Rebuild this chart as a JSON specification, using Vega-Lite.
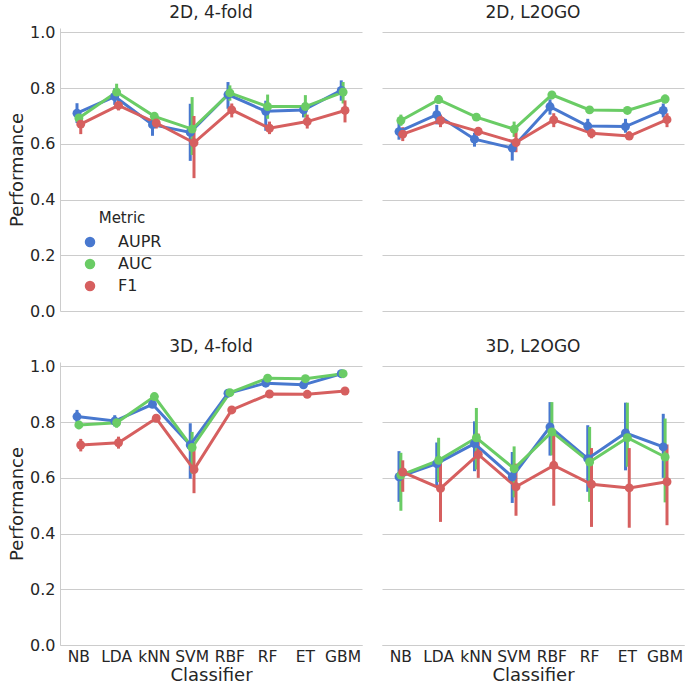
{
  "$schema": "https://vega.github.io/schema/vega-lite/v6.json",
  "padding": {"left": 8, "top": 4, "right": 5, "bottom": 5},
  "background": "white",
  "config": {
    "font": "DejaVu Sans",
    "view": {"stroke": null},
    "axis": {
      "domainColor": "#cccccc",
      "gridColor": "#cccccc",
      "tickSize": 0,
      "labelColor": "#262626",
      "titleColor": "#262626",
      "labelFontSize": 16,
      "titleFontSize": 18,
      "titleFontWeight": "normal"
    },
    "legend": {
      "labelFontSize": 16,
      "titleFontSize": 15,
      "titleFontWeight": "normal",
      "labelColor": "#262626",
      "titleColor": "#262626"
    }
  },
  "data": {
    "values": [
      {"Panel": "2D, 4-fold", "Classifier": "NB", "Metric": "AUPR", "value": 0.710, "lo": 0.675, "hi": 0.746},
      {"Panel": "2D, 4-fold", "Classifier": "NB", "Metric": "AUC", "value": 0.693, "lo": 0.665, "hi": 0.720},
      {"Panel": "2D, 4-fold", "Classifier": "NB", "Metric": "F1", "value": 0.671, "lo": 0.635, "hi": 0.700},
      {"Panel": "2D, 4-fold", "Classifier": "LDA", "Metric": "AUPR", "value": 0.770, "lo": 0.740, "hi": 0.800},
      {"Panel": "2D, 4-fold", "Classifier": "LDA", "Metric": "AUC", "value": 0.786, "lo": 0.760, "hi": 0.816},
      {"Panel": "2D, 4-fold", "Classifier": "LDA", "Metric": "F1", "value": 0.738, "lo": 0.720, "hi": 0.760},
      {"Panel": "2D, 4-fold", "Classifier": "kNN", "Metric": "AUPR", "value": 0.669, "lo": 0.629, "hi": 0.695},
      {"Panel": "2D, 4-fold", "Classifier": "kNN", "Metric": "AUC", "value": 0.699, "lo": 0.685, "hi": 0.712},
      {"Panel": "2D, 4-fold", "Classifier": "kNN", "Metric": "F1", "value": 0.675, "lo": 0.655, "hi": 0.695},
      {"Panel": "2D, 4-fold", "Classifier": "SVM", "Metric": "AUPR", "value": 0.641, "lo": 0.539, "hi": 0.744},
      {"Panel": "2D, 4-fold", "Classifier": "SVM", "Metric": "AUC", "value": 0.653, "lo": 0.560, "hi": 0.768},
      {"Panel": "2D, 4-fold", "Classifier": "SVM", "Metric": "F1", "value": 0.604, "lo": 0.477, "hi": 0.700},
      {"Panel": "2D, 4-fold", "Classifier": "RBF", "Metric": "AUPR", "value": 0.777, "lo": 0.726, "hi": 0.822},
      {"Panel": "2D, 4-fold", "Classifier": "RBF", "Metric": "AUC", "value": 0.783, "lo": 0.755, "hi": 0.810},
      {"Panel": "2D, 4-fold", "Classifier": "RBF", "Metric": "F1", "value": 0.722, "lo": 0.695, "hi": 0.745},
      {"Panel": "2D, 4-fold", "Classifier": "RF", "Metric": "AUPR", "value": 0.717, "lo": 0.647, "hi": 0.755},
      {"Panel": "2D, 4-fold", "Classifier": "RF", "Metric": "AUC", "value": 0.734, "lo": 0.690, "hi": 0.777},
      {"Panel": "2D, 4-fold", "Classifier": "RF", "Metric": "F1", "value": 0.656, "lo": 0.635, "hi": 0.680},
      {"Panel": "2D, 4-fold", "Classifier": "ET", "Metric": "AUPR", "value": 0.722, "lo": 0.695, "hi": 0.745},
      {"Panel": "2D, 4-fold", "Classifier": "ET", "Metric": "AUC", "value": 0.734, "lo": 0.695, "hi": 0.775},
      {"Panel": "2D, 4-fold", "Classifier": "ET", "Metric": "F1", "value": 0.680, "lo": 0.655, "hi": 0.705},
      {"Panel": "2D, 4-fold", "Classifier": "GBM", "Metric": "AUPR", "value": 0.792, "lo": 0.755, "hi": 0.828},
      {"Panel": "2D, 4-fold", "Classifier": "GBM", "Metric": "AUC", "value": 0.786, "lo": 0.745, "hi": 0.822},
      {"Panel": "2D, 4-fold", "Classifier": "GBM", "Metric": "F1", "value": 0.720, "lo": 0.677, "hi": 0.756},

      {"Panel": "2D, L2OGO", "Classifier": "NB", "Metric": "AUPR", "value": 0.644, "lo": 0.615, "hi": 0.675},
      {"Panel": "2D, L2OGO", "Classifier": "NB", "Metric": "AUC", "value": 0.684, "lo": 0.665, "hi": 0.705},
      {"Panel": "2D, L2OGO", "Classifier": "NB", "Metric": "F1", "value": 0.635, "lo": 0.610, "hi": 0.660},
      {"Panel": "2D, L2OGO", "Classifier": "LDA", "Metric": "AUPR", "value": 0.705, "lo": 0.670, "hi": 0.740},
      {"Panel": "2D, L2OGO", "Classifier": "LDA", "Metric": "AUC", "value": 0.759, "lo": 0.745, "hi": 0.775},
      {"Panel": "2D, L2OGO", "Classifier": "LDA", "Metric": "F1", "value": 0.684, "lo": 0.660, "hi": 0.705},
      {"Panel": "2D, L2OGO", "Classifier": "kNN", "Metric": "AUPR", "value": 0.617, "lo": 0.590, "hi": 0.640},
      {"Panel": "2D, L2OGO", "Classifier": "kNN", "Metric": "AUC", "value": 0.696, "lo": 0.685, "hi": 0.707},
      {"Panel": "2D, L2OGO", "Classifier": "kNN", "Metric": "F1", "value": 0.645, "lo": 0.630, "hi": 0.660},
      {"Panel": "2D, L2OGO", "Classifier": "SVM", "Metric": "AUPR", "value": 0.585, "lo": 0.540, "hi": 0.615},
      {"Panel": "2D, L2OGO", "Classifier": "SVM", "Metric": "AUC", "value": 0.653, "lo": 0.625, "hi": 0.680},
      {"Panel": "2D, L2OGO", "Classifier": "SVM", "Metric": "F1", "value": 0.605, "lo": 0.570, "hi": 0.655},
      {"Panel": "2D, L2OGO", "Classifier": "RBF", "Metric": "AUPR", "value": 0.734, "lo": 0.705, "hi": 0.760},
      {"Panel": "2D, L2OGO", "Classifier": "RBF", "Metric": "AUC", "value": 0.776, "lo": 0.760, "hi": 0.790},
      {"Panel": "2D, L2OGO", "Classifier": "RBF", "Metric": "F1", "value": 0.686, "lo": 0.660, "hi": 0.710},
      {"Panel": "2D, L2OGO", "Classifier": "RF", "Metric": "AUPR", "value": 0.664, "lo": 0.640, "hi": 0.690},
      {"Panel": "2D, L2OGO", "Classifier": "RF", "Metric": "AUC", "value": 0.722, "lo": 0.710, "hi": 0.735},
      {"Panel": "2D, L2OGO", "Classifier": "RF", "Metric": "F1", "value": 0.638, "lo": 0.620, "hi": 0.655},
      {"Panel": "2D, L2OGO", "Classifier": "ET", "Metric": "AUPR", "value": 0.662, "lo": 0.640, "hi": 0.690},
      {"Panel": "2D, L2OGO", "Classifier": "ET", "Metric": "AUC", "value": 0.720, "lo": 0.710, "hi": 0.730},
      {"Panel": "2D, L2OGO", "Classifier": "ET", "Metric": "F1", "value": 0.628, "lo": 0.615, "hi": 0.645},
      {"Panel": "2D, L2OGO", "Classifier": "GBM", "Metric": "AUPR", "value": 0.720, "lo": 0.695, "hi": 0.745},
      {"Panel": "2D, L2OGO", "Classifier": "GBM", "Metric": "AUC", "value": 0.761, "lo": 0.745, "hi": 0.777},
      {"Panel": "2D, L2OGO", "Classifier": "GBM", "Metric": "F1", "value": 0.687, "lo": 0.660, "hi": 0.710},

      {"Panel": "3D, 4-fold", "Classifier": "NB", "Metric": "AUPR", "value": 0.820, "lo": 0.800, "hi": 0.844},
      {"Panel": "3D, 4-fold", "Classifier": "NB", "Metric": "AUC", "value": 0.790, "lo": 0.775, "hi": 0.805},
      {"Panel": "3D, 4-fold", "Classifier": "NB", "Metric": "F1", "value": 0.718, "lo": 0.695, "hi": 0.740},
      {"Panel": "3D, 4-fold", "Classifier": "LDA", "Metric": "AUPR", "value": 0.804, "lo": 0.785, "hi": 0.825},
      {"Panel": "3D, 4-fold", "Classifier": "LDA", "Metric": "AUC", "value": 0.798, "lo": 0.780, "hi": 0.815},
      {"Panel": "3D, 4-fold", "Classifier": "LDA", "Metric": "F1", "value": 0.726, "lo": 0.705, "hi": 0.748},
      {"Panel": "3D, 4-fold", "Classifier": "kNN", "Metric": "AUPR", "value": 0.864, "lo": 0.855, "hi": 0.875},
      {"Panel": "3D, 4-fold", "Classifier": "kNN", "Metric": "AUC", "value": 0.892, "lo": 0.880, "hi": 0.902},
      {"Panel": "3D, 4-fold", "Classifier": "kNN", "Metric": "F1", "value": 0.814, "lo": 0.805, "hi": 0.825},
      {"Panel": "3D, 4-fold", "Classifier": "SVM", "Metric": "AUPR", "value": 0.718, "lo": 0.597, "hi": 0.796},
      {"Panel": "3D, 4-fold", "Classifier": "SVM", "Metric": "AUC", "value": 0.709, "lo": 0.615, "hi": 0.765},
      {"Panel": "3D, 4-fold", "Classifier": "SVM", "Metric": "F1", "value": 0.630, "lo": 0.545, "hi": 0.720},
      {"Panel": "3D, 4-fold", "Classifier": "RBF", "Metric": "AUPR", "value": 0.904, "lo": 0.890, "hi": 0.918},
      {"Panel": "3D, 4-fold", "Classifier": "RBF", "Metric": "AUC", "value": 0.906, "lo": 0.895, "hi": 0.915},
      {"Panel": "3D, 4-fold", "Classifier": "RBF", "Metric": "F1", "value": 0.844, "lo": 0.835, "hi": 0.852},
      {"Panel": "3D, 4-fold", "Classifier": "RF", "Metric": "AUPR", "value": 0.940, "lo": 0.930, "hi": 0.950},
      {"Panel": "3D, 4-fold", "Classifier": "RF", "Metric": "AUC", "value": 0.958, "lo": 0.952, "hi": 0.963},
      {"Panel": "3D, 4-fold", "Classifier": "RF", "Metric": "F1", "value": 0.901, "lo": 0.895, "hi": 0.907},
      {"Panel": "3D, 4-fold", "Classifier": "ET", "Metric": "AUPR", "value": 0.934, "lo": 0.924, "hi": 0.944},
      {"Panel": "3D, 4-fold", "Classifier": "ET", "Metric": "AUC", "value": 0.956, "lo": 0.950, "hi": 0.962},
      {"Panel": "3D, 4-fold", "Classifier": "ET", "Metric": "F1", "value": 0.900, "lo": 0.894, "hi": 0.906},
      {"Panel": "3D, 4-fold", "Classifier": "GBM", "Metric": "AUPR", "value": 0.974, "lo": 0.970, "hi": 0.978},
      {"Panel": "3D, 4-fold", "Classifier": "GBM", "Metric": "AUC", "value": 0.974, "lo": 0.970, "hi": 0.978},
      {"Panel": "3D, 4-fold", "Classifier": "GBM", "Metric": "F1", "value": 0.912, "lo": 0.906, "hi": 0.918},

      {"Panel": "3D, L2OGO", "Classifier": "NB", "Metric": "AUPR", "value": 0.604, "lo": 0.514, "hi": 0.696},
      {"Panel": "3D, L2OGO", "Classifier": "NB", "Metric": "AUC", "value": 0.610, "lo": 0.482, "hi": 0.690},
      {"Panel": "3D, L2OGO", "Classifier": "NB", "Metric": "F1", "value": 0.621, "lo": 0.550, "hi": 0.663},
      {"Panel": "3D, L2OGO", "Classifier": "LDA", "Metric": "AUPR", "value": 0.651, "lo": 0.570, "hi": 0.727},
      {"Panel": "3D, L2OGO", "Classifier": "LDA", "Metric": "AUC", "value": 0.663, "lo": 0.585, "hi": 0.744},
      {"Panel": "3D, L2OGO", "Classifier": "LDA", "Metric": "F1", "value": 0.562, "lo": 0.442, "hi": 0.660},
      {"Panel": "3D, L2OGO", "Classifier": "kNN", "Metric": "AUPR", "value": 0.723, "lo": 0.624, "hi": 0.803},
      {"Panel": "3D, L2OGO", "Classifier": "kNN", "Metric": "AUC", "value": 0.744, "lo": 0.630, "hi": 0.851},
      {"Panel": "3D, L2OGO", "Classifier": "kNN", "Metric": "F1", "value": 0.684, "lo": 0.600, "hi": 0.759},
      {"Panel": "3D, L2OGO", "Classifier": "SVM", "Metric": "AUPR", "value": 0.604, "lo": 0.510, "hi": 0.693},
      {"Panel": "3D, L2OGO", "Classifier": "SVM", "Metric": "AUC", "value": 0.633, "lo": 0.530, "hi": 0.713},
      {"Panel": "3D, L2OGO", "Classifier": "SVM", "Metric": "F1", "value": 0.568, "lo": 0.464, "hi": 0.651},
      {"Panel": "3D, L2OGO", "Classifier": "RBF", "Metric": "AUPR", "value": 0.783, "lo": 0.680, "hi": 0.872},
      {"Panel": "3D, L2OGO", "Classifier": "RBF", "Metric": "AUC", "value": 0.765, "lo": 0.681, "hi": 0.872},
      {"Panel": "3D, L2OGO", "Classifier": "RBF", "Metric": "F1", "value": 0.645, "lo": 0.500, "hi": 0.765},
      {"Panel": "3D, L2OGO", "Classifier": "RF", "Metric": "AUPR", "value": 0.669, "lo": 0.550, "hi": 0.789},
      {"Panel": "3D, L2OGO", "Classifier": "RF", "Metric": "AUC", "value": 0.657, "lo": 0.514, "hi": 0.783},
      {"Panel": "3D, L2OGO", "Classifier": "RF", "Metric": "F1", "value": 0.577, "lo": 0.424, "hi": 0.707},
      {"Panel": "3D, L2OGO", "Classifier": "ET", "Metric": "AUPR", "value": 0.761, "lo": 0.627, "hi": 0.870},
      {"Panel": "3D, L2OGO", "Classifier": "ET", "Metric": "AUC", "value": 0.744, "lo": 0.640, "hi": 0.870},
      {"Panel": "3D, L2OGO", "Classifier": "ET", "Metric": "F1", "value": 0.564, "lo": 0.421, "hi": 0.707},
      {"Panel": "3D, L2OGO", "Classifier": "GBM", "Metric": "AUPR", "value": 0.711, "lo": 0.600, "hi": 0.830},
      {"Panel": "3D, L2OGO", "Classifier": "GBM", "Metric": "AUC", "value": 0.675, "lo": 0.512, "hi": 0.813},
      {"Panel": "3D, L2OGO", "Classifier": "GBM", "Metric": "F1", "value": 0.586, "lo": 0.430, "hi": 0.720}
    ]
  },
  "facet": {
    "field": "Panel",
    "type": "nominal",
    "sort": ["2D, 4-fold", "2D, L2OGO", "3D, 4-fold", "3D, L2OGO"],
    "header": {"title": null, "labelFontSize": 17, "labelColor": "#262626", "labelPadding": 6}
  },
  "columns": 2,
  "spacing": {"row": 27, "column": 20},
  "spec": {
    "width": 302,
    "height": 283,
    "encoding": {
      "x": {
        "field": "Classifier",
        "type": "nominal",
        "sort": ["NB", "LDA", "kNN", "SVM", "RBF", "RF", "ET", "GBM"],
        "scale": {"type": "band", "paddingInner": 0, "paddingOuter": 0},
        "axis": {"labelAngle": 0, "labelPadding": 4, "titlePadding": 2, "grid": false, "labelOverlap": false, "labelFontSize": 15.5}
      },
      "xOffset": {
        "field": "Metric",
        "type": "nominal",
        "sort": ["AUPR", "AUC", "F1"],
        "scale": {"type": "point", "padding": 0, "range": [17, 20.75]}
      },
      "color": {
        "field": "Metric",
        "type": "nominal",
        "sort": ["AUPR", "AUC", "F1"],
        "scale": {"domain": ["AUPR", "AUC", "F1"], "range": ["#4878CF", "#6ACC65", "#D65F5F"]},
        "legend": {
          "orient": "none",
          "legendX": 22,
          "legendY": 183,
          "titleAnchor": "middle",
          "symbolType": "circle",
          "symbolSize": 110,
          "symbolStrokeWidth": 0,
          "labelOffset": 20,
          "rowPadding": 6,
          "titlePadding": 8
        }
      }
    },
    "layer": [
      {
        "mark": {"type": "rule", "strokeWidth": 3},
        "encoding": {
          "y": {"field": "lo", "type": "quantitative"},
          "y2": {"field": "hi"}
        }
      },
      {
        "mark": {"type": "line", "strokeWidth": 3},
        "encoding": {
          "y": {
            "field": "value",
            "type": "quantitative",
            "title": "Performance",
            "scale": {"domain": [0, 1.016], "nice": false},
            "axis": {"values": [0, 0.2, 0.4, 0.6, 0.8, 1.0], "format": ".1f", "labelPadding": 5, "titlePadding": 3}
          }
        }
      },
      {
        "mark": {"type": "point", "filled": true, "size": 80, "opacity": 1},
        "encoding": {
          "y": {"field": "value", "type": "quantitative"}
        }
      }
    ]
  }
}
